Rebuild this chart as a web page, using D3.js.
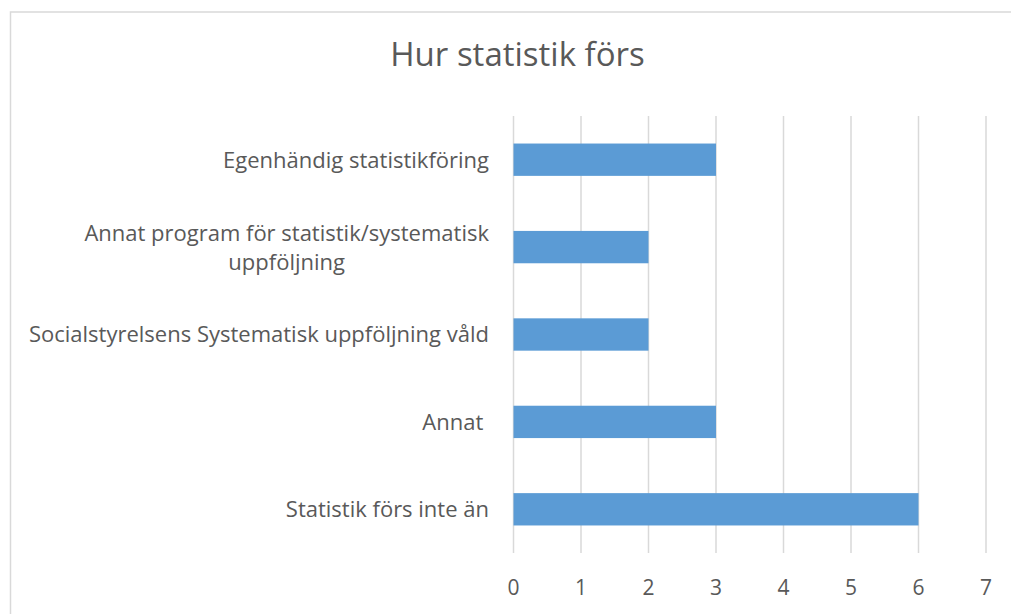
<!DOCTYPE html>
<html><head><meta charset="utf-8">
<script src="https://cdn.jsdelivr.net/npm/d3@7/dist/d3.min.js"></script>
<style>body{margin:0;background:#fff;} text{font-family:"Open Sans",sans-serif;fill:#595959;white-space:pre;}</style>
</head><body>
<svg id="chart" width="1011" height="614"></svg>
<script>
const title = "Hur statistik förs";
const categories = [
  ["Egenhändig statistikföring"],
  ["Annat program för statistik/systematisk", "uppföljning"],
  ["Socialstyrelsens Systematisk uppföljning våld"],
  ["Annat "],
  ["Statistik förs inte än"]
];
const values = [3, 2, 2, 3, 6];
const xTicks = [0, 1, 2, 3, 4, 5, 6, 7];

const svg = d3.select("#chart");
const W = 1011, H = 614;
const m = {left: 513.5, right: 1011 - 986, top: 116, bottom: 614 - 553};

svg.append("rect").attr("x", 10.5).attr("y", 12).attr("width", 1100).attr("height", 700)
  .attr("fill", "#fff").attr("stroke", "#D9D9D9").attr("stroke-width", 1.5);

const x = d3.scaleLinear().domain([0, 7]).range([m.left, W - m.right]);
const y = d3.scaleBand().domain(d3.range(categories.length)).range([m.top, H - m.bottom]).paddingInner(0.63).paddingOuter(0.315);

svg.append("g").selectAll("line").data(xTicks).join("line")
  .attr("x1", d => x(d)).attr("x2", d => x(d))
  .attr("y1", m.top).attr("y2", H - m.bottom)
  .attr("stroke", "#D9D9D9").attr("stroke-width", 1.5);

svg.append("g").selectAll("rect").data(values).join("rect")
  .attr("x", x(0)).attr("y", (d, i) => y(i))
  .attr("width", d => x(d) - x(0)).attr("height", y.bandwidth())
  .attr("fill", "#5B9BD5");

svg.append("g").selectAll("text").data(xTicks).join("text")
  .attr("x", d => x(d)).attr("y", 595)
  .attr("text-anchor", "middle").attr("font-size", 21).text(d => d);

const fs = 22, lh = 29;
const lab = svg.append("g");
categories.forEach((lines, i) => {
  const cy = y(i) + y.bandwidth() / 2;
  const n = lines.length;
  const g = lab.append("g");
  const texts = lines.map((l, j) => g.append("text")
    .attr("y", cy + (j - (n - 1) / 2) * lh + fs * 0.36)
    .attr("font-size", fs).text(l));
  const maxW = d3.max(texts, t => t.node().getComputedTextLength());
  const right = 489;
  texts.forEach(t => t.attr("x", right - maxW / 2).attr("text-anchor", "middle"));
});

svg.append("text").attr("x", 517.5).attr("y", 66).attr("text-anchor", "middle")
  .attr("font-size", 33).text(title);
</script>
</body></html>
